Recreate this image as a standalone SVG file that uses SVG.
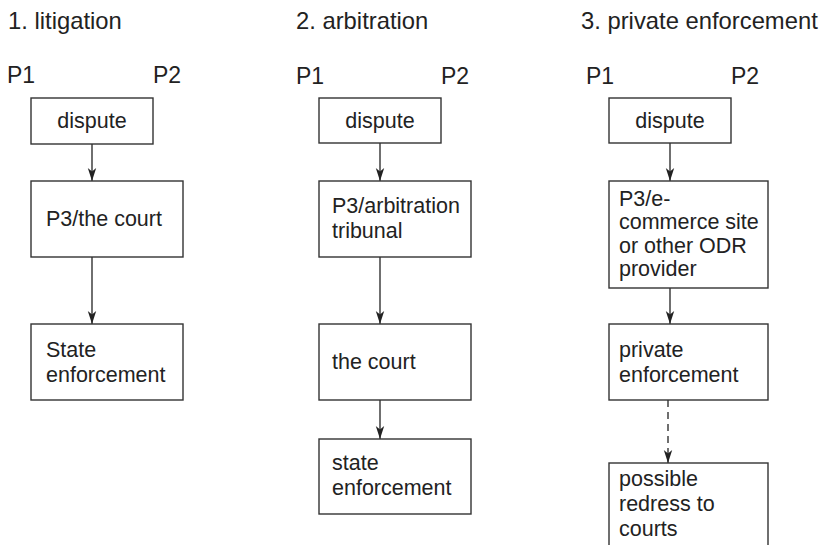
<svg xmlns="http://www.w3.org/2000/svg" width="826" height="545" viewBox="0 0 826 545">
<defs>
<style>
text{font-family:"Liberation Sans",Arial,sans-serif;font-size:21.5px;fill:#222}
.t{font-size:23.8px}
.p{font-size:23px}
.b{fill:#fff;stroke:#333;stroke-width:1.4}
.c{fill:none;stroke:#333;stroke-width:1.4}
.d{stroke-dasharray:7,5}
</style>
<marker id="ah" viewBox="0 0 13 10" refX="13" refY="5" markerWidth="13" markerHeight="10" markerUnits="userSpaceOnUse" orient="auto">
<path d="M0,0.8 L13,5 L0,9.2 L3.5,5 z" fill="#222"/>
</marker>
</defs>
<rect width="826" height="545" fill="#fff"/>
<g id="titles">
<text class="t" x="8" y="29">1. litigation</text>
<text class="t" x="296" y="29">2. arbitration</text>
<text class="t" x="581" y="29">3. private enforcement</text>
</g>
<g id="parties">
<text class="p" x="7" y="83">P1</text><text class="p" x="153" y="83">P2</text>
<text class="p" x="296" y="84">P1</text><text class="p" x="441" y="84">P2</text>
<text class="p" x="586" y="84">P1</text><text class="p" x="731" y="84">P2</text>
</g>
<g id="connectors">
<line class="c" x1="92" y1="144" x2="92" y2="181" marker-end="url(#ah)"/>
<line class="c" x1="92" y1="257" x2="92" y2="324" marker-end="url(#ah)"/>
<line class="c" x1="380" y1="143" x2="380" y2="181" marker-end="url(#ah)"/>
<line class="c" x1="380" y1="257" x2="380" y2="324" marker-end="url(#ah)"/>
<line class="c" x1="380" y1="400" x2="380" y2="439" marker-end="url(#ah)"/>
<line class="c" x1="670" y1="143" x2="670" y2="181" marker-end="url(#ah)"/>
<line class="c" x1="670" y1="288" x2="670" y2="324" marker-end="url(#ah)"/>
<line class="c d" x1="668" y1="400" x2="668" y2="463" marker-end="url(#ah)"/>
</g>
<g id="n1-dispute"><rect class="b" x="31" y="98" width="122" height="46"/><text x="92" y="128" text-anchor="middle">dispute</text></g>
<g id="n1-court"><rect class="b" x="31" y="181" width="152" height="76"/><text x="46" y="226">P3/the court</text></g>
<g id="n1-state"><rect class="b" x="31" y="324" width="152" height="76"/><text x="46" y="357">State</text><text x="46" y="382">enforcement</text></g>
<g id="n2-dispute"><rect class="b" x="319" y="98" width="122" height="45"/><text x="380" y="128" text-anchor="middle">dispute</text></g>
<g id="n2-tribunal"><rect class="b" x="319" y="181" width="152" height="76"/><text x="332" y="213">P3/arbitration</text><text x="332" y="238">tribunal</text></g>
<g id="n2-court"><rect class="b" x="319" y="324" width="152" height="76"/><text x="332" y="369">the court</text></g>
<g id="n2-state"><rect class="b" x="319" y="439" width="152" height="75"/><text x="332" y="470">state</text><text x="332" y="495">enforcement</text></g>
<g id="n3-dispute"><rect class="b" x="609" y="98" width="122" height="45"/><text x="670" y="128" text-anchor="middle">dispute</text></g>
<g id="n3-odr"><rect class="b" x="609" y="181" width="159" height="107"/><text x="619" y="206">P3/e-</text><text x="619" y="229">commerce site</text><text x="619" y="253">or other ODR</text><text x="619" y="276">provider</text></g>
<g id="n3-private"><rect class="b" x="609" y="324" width="159" height="76"/><text x="619" y="357">private</text><text x="619" y="382">enforcement</text></g>
<g id="n3-redress"><rect class="b" x="609" y="463" width="159" height="120"/><text x="619" y="486">possible</text><text x="619" y="511">redress to</text><text x="619" y="536">courts</text></g>
</svg>
